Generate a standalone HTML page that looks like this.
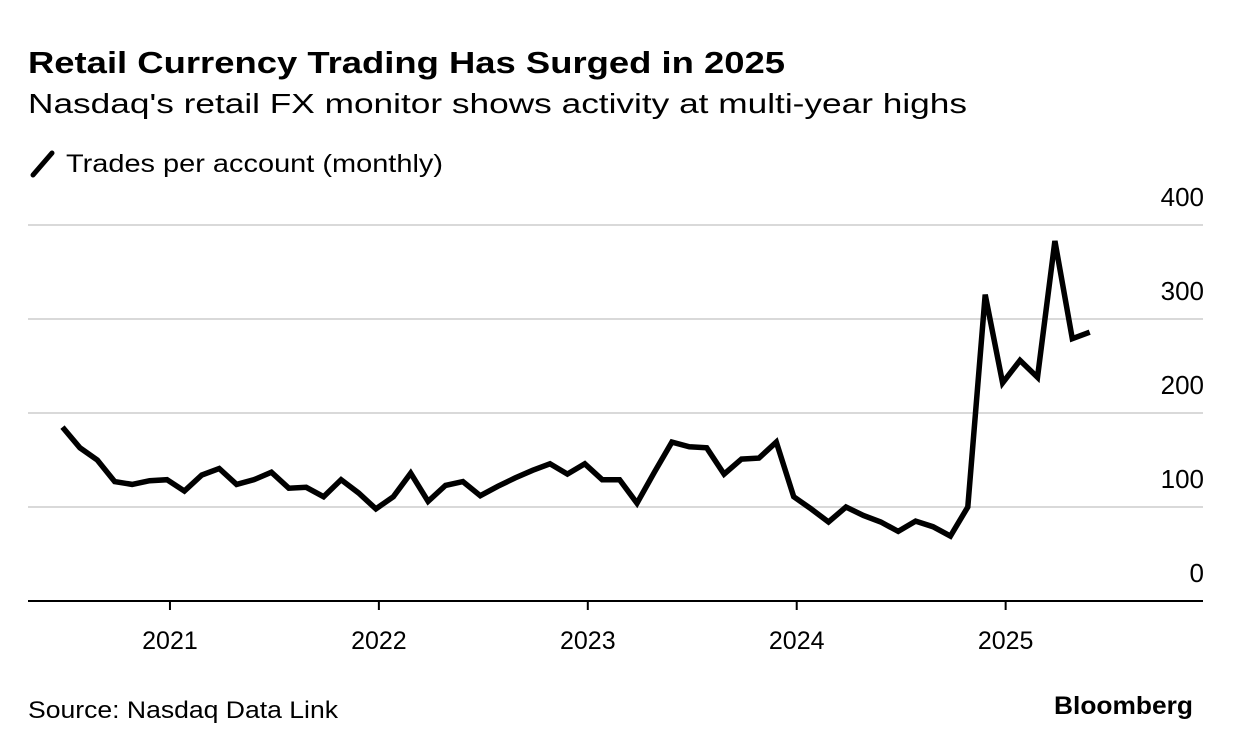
<!DOCTYPE html>
<html><head><meta charset="utf-8"><style>
body{margin:0;background:#fff;width:1233px;height:750px;overflow:hidden;font-family:"Liberation Sans",sans-serif;color:#000}
</style></head><body>
<svg width="1233" height="750" style="position:absolute;left:0;top:0">
<text x="28" y="73" font-size="31" font-weight="bold" textLength="757" lengthAdjust="spacingAndGlyphs">Retail Currency Trading Has Surged in 2025</text>
<text x="28" y="113" font-size="28" textLength="939" lengthAdjust="spacingAndGlyphs">Nasdaq's retail FX monitor shows activity at multi-year highs</text>
<line x1="33" y1="175" x2="52" y2="153" stroke="#000" stroke-width="5" stroke-linecap="round"/>
<text x="66" y="172" font-size="25" textLength="377" lengthAdjust="spacingAndGlyphs">Trades per account (monthly)</text>
<g id="grid"></g>
<g id="axis"></g>
<path id="line" fill="none" stroke="#000" stroke-width="5.5" stroke-linejoin="miter"/>
<text x="28" y="718" font-size="24" textLength="310" lengthAdjust="spacingAndGlyphs">Source: Nasdaq Data Link</text>
<text x="1054" y="714" font-size="25" font-weight="bold" textLength="139" lengthAdjust="spacingAndGlyphs">Bloomberg</text>
</svg>
<script>
const values=[185,163,150,127,124,128,
129,117,134,141,124,129,137,120,121,111,129,115,
98,111,136,106,123,127,112,122,131,139,146,135,
146,129,129,104,137,169,164,163,135,151,152,169,
111,98,84,100,91,84,74,85,79,69,100,326,
232,256,238,383,279,286];
const yTicks=[0,100,200,300,400];
const yearLabels=["2021","2022","2023","2024","2025"];
const yearIndex=[6,18,30,42,54];
const NS="http://www.w3.org/2000/svg";
const x=i=>62.5+i*17.41;
const y=v=>601-v*0.94;
const grid=document.getElementById('grid'),axis=document.getElementById('axis');
yTicks.forEach(t=>{
  if(t>0){const l=document.createElementNS(NS,'line');
  l.setAttribute('x1',28);l.setAttribute('x2',1203);l.setAttribute('y1',y(t));l.setAttribute('y2',y(t));
  l.setAttribute('stroke','#d9d9d9');l.setAttribute('stroke-width','2');
  
  
  grid.appendChild(l);}
  const tx=document.createElementNS(NS,'text');
  tx.setAttribute('x',1204);tx.setAttribute('y',y(t)-19);tx.setAttribute('text-anchor','end');tx.setAttribute('font-size','26');
  tx.textContent=t;
  
  
  axis.appendChild(tx);
});
const base=document.createElementNS(NS,'line');
base.setAttribute('x1',28);base.setAttribute('x2',1203);base.setAttribute('y1',601);base.setAttribute('y2',601);
base.setAttribute('stroke','#000');base.setAttribute('stroke-width','2');


axis.appendChild(base);
yearLabels.forEach((lab,k)=>{
  const px=x(yearIndex[k])+3;
  const tk=document.createElementNS(NS,'line');
  tk.setAttribute('x1',px);tk.setAttribute('x2',px);tk.setAttribute('y1',601);tk.setAttribute('y2',610);
  tk.setAttribute('stroke','#000');tk.setAttribute('stroke-width','2');
  
  
  axis.appendChild(tk);
  const t=document.createElementNS(NS,'text');
  t.setAttribute('x',px);t.setAttribute('y',649);t.setAttribute('text-anchor','middle');t.setAttribute('font-size','25');
  t.textContent=lab;
  
  
  axis.appendChild(t);
});
document.getElementById('line').setAttribute('d',values.map((v,i)=>(i?'L':'M')+x(i).toFixed(1)+','+y(v).toFixed(1)).join(''));
</script>
</body></html>
